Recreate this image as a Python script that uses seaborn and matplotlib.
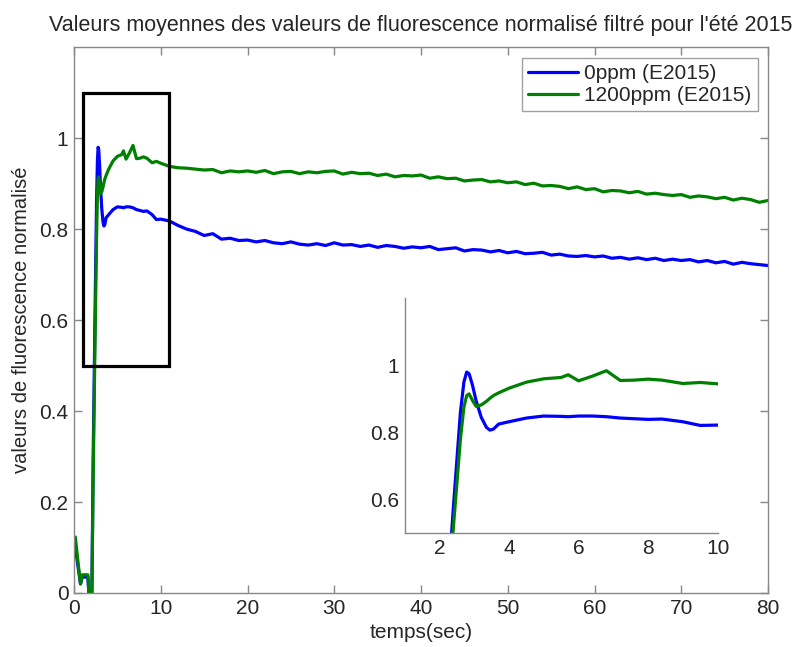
import numpy as np
import pandas as pd
import matplotlib
matplotlib.use("Agg")
import matplotlib.pyplot as plt
import seaborn as sns
from matplotlib.patches import Rectangle

# Values
temps = [0, 0.15, 0.45, 0.75, 0.95, 1.25, 1.6, 1.8, 2.05, 2.2, 2.4, 2.6, 2.7, 2.78, 2.85,
         2.95, 3.05, 3.2, 3.35, 3.45, 3.55, 3.7, 4.0, 4.5, 5.0, 5.5, 5.7, 6.0, 6.4, 6.8,
         7.2, 7.6, 8.0, 8.4, 9.0, 9.5, 10.0,
         11, 12, 13, 14, 15, 16, 17, 18, 19, 20, 21, 22, 23, 24, 25, 26, 27, 28,
         29, 30, 31, 32, 33, 34, 35, 36, 37, 38, 39, 40, 41, 42, 43, 44, 45, 46,
         47, 48, 49, 50, 51, 52, 53, 54, 55, 56, 57, 58, 59, 60, 61, 62, 63, 64,
         65, 66, 67, 68, 69, 70, 71, 72, 73, 74, 75, 76, 77, 78, 79, 80]

ppm0 = [0.085, 0.10, 0.06, 0.02, 0.035, 0.035, 0.035, -0.03, -0.02, 0.28, 0.58, 0.86, 0.95, 0.98, 0.975,
        0.94, 0.895, 0.845, 0.815, 0.807, 0.81, 0.825, 0.832, 0.843, 0.849, 0.848, 0.847, 0.849, 0.849, 0.847,
        0.843, 0.841, 0.839, 0.840, 0.832, 0.821, 0.822,
        0.818, 0.808, 0.800, 0.795, 0.786, 0.790, 0.778, 0.780, 0.775, 0.776, 0.772, 0.775, 0.770, 0.768,
        0.772, 0.767, 0.765, 0.768, 0.764, 0.770, 0.765, 0.766, 0.762, 0.765, 0.760, 0.764, 0.762, 0.758,
        0.761, 0.759, 0.762, 0.755, 0.757, 0.759, 0.752, 0.755, 0.754, 0.750, 0.753, 0.748, 0.751, 0.746,
        0.747, 0.749, 0.743, 0.745, 0.741, 0.740, 0.742, 0.739, 0.741, 0.736, 0.738, 0.734, 0.737, 0.733,
        0.736, 0.731, 0.734, 0.731, 0.733, 0.728, 0.731, 0.726, 0.729, 0.723, 0.727, 0.724, 0.722, 0.720]

ppm1200 = [0.12, 0.123, 0.07, 0.02, 0.04, 0.04, 0.04, -0.03, -0.02, 0.24, 0.52, 0.78, 0.875, 0.91, 0.915,
           0.895, 0.878, 0.882, 0.893, 0.902, 0.91, 0.918, 0.932, 0.950, 0.960, 0.964, 0.972, 0.954, 0.968, 0.984,
           0.955, 0.956, 0.959, 0.956, 0.946, 0.949, 0.945,
           0.938, 0.935, 0.934, 0.932, 0.930, 0.931, 0.924, 0.928, 0.926, 0.928, 0.925, 0.929, 0.922, 0.926,
           0.927, 0.922, 0.926, 0.924, 0.927, 0.928, 0.921, 0.925, 0.922, 0.923, 0.918, 0.921, 0.915, 0.918,
           0.917, 0.919, 0.912, 0.915, 0.911, 0.912, 0.906, 0.908, 0.909, 0.904, 0.906, 0.902, 0.904, 0.898,
           0.901, 0.895, 0.896, 0.894, 0.889, 0.893, 0.887, 0.889, 0.882, 0.885, 0.884, 0.880, 0.883, 0.877,
           0.879, 0.876, 0.874, 0.876, 0.870, 0.873, 0.871, 0.867, 0.870, 0.864, 0.868, 0.865, 0.859, 0.863]

labels = ['0ppm (E2015)', '1200ppm (E2015)']
colors = ['#0000ff', '#008000']

df = pd.DataFrame({'temps': temps * 2,
                   'valeur': ppm0 + ppm1200,
                   'serie': [labels[0]] * len(temps) + [labels[1]] * len(temps)})

sns.set_theme(style="white")
plt.rcParams['font.family'] = ['Liberation Sans', 'DejaVu Sans']

fig = plt.figure(figsize=(8, 6.47), dpi=100)
ax = fig.add_axes([0.0925, 0.0835, 0.8675, 0.8435])

sns.lineplot(data=df, x='temps', y='valeur', hue='serie', palette=colors,
             linewidth=2.3, ax=ax, estimator=None, sort=False)
ax.set_xlim(0, 80)
ax.set_ylim(0, 1.2)
ax.set_xticks(range(0, 81, 10))
ax.set_yticks([0, 0.2, 0.4, 0.6, 0.8, 1])
ax.set_yticklabels(['0', '0.2', '0.4', '0.6', '0.8', '1'])
ax.set_xlabel('temps(sec)', fontsize=15, labelpad=4)
ax.set_ylabel('valeurs de fluorescence normalisé', fontsize=14.5, labelpad=6)
ax.set_title("Valeurs moyennes des valeurs de fluorescence normalisé filtré pour l'été 2015",
             fontsize=15.5, pad=12)
ax.tick_params(direction='in', length=6, width=1, color='#888888', labelsize=15,
               top=True, right=True, bottom=True, left=True, pad=4)
for s in ax.spines.values():
    s.set_color('#888888')
    s.set_linewidth(1)

leg = ax.legend(loc='upper right', fontsize=15, frameon=True, fancybox=False,
                borderaxespad=0.5, handlelength=2.4, handletextpad=0.3,
                borderpad=0.3, labelspacing=0.15)
leg.set_title(None)
leg.get_frame().set_edgecolor('#888888')
leg.get_frame().set_linewidth(1)

ax.add_patch(Rectangle((1, 0.5), 10, 0.6, fill=False, edgecolor='black', linewidth=2.3, zorder=5))

# inset zoom
ins = fig.add_axes([0.506, 0.176, 0.391, 0.363])
sns.lineplot(data=df, x='temps', y='valeur', hue='serie', palette=colors,
             linewidth=2.3, ax=ins, estimator=None, sort=False, legend=False)
ins.set_xlim(1, 10)
ins.set_ylim(0.5, 1.2)
ins.set_xticks([2, 4, 6, 8, 10])
ins.set_yticks([0.6, 0.8, 1])
ins.set_yticklabels(['0.6', '0.8', '1'])
ins.set_xlabel('')
ins.set_ylabel('')
ins.patch.set_alpha(0)
ins.tick_params(direction='in', length=6, width=1, color='#888888', labelsize=15, pad=4)
ins.spines['top'].set_visible(False)
ins.spines['right'].set_visible(False)
for s in ['left', 'bottom']:
    ins.spines[s].set_color('#888888')
    ins.spines[s].set_linewidth(1)

fig.savefig('out.png', dpi=100)
